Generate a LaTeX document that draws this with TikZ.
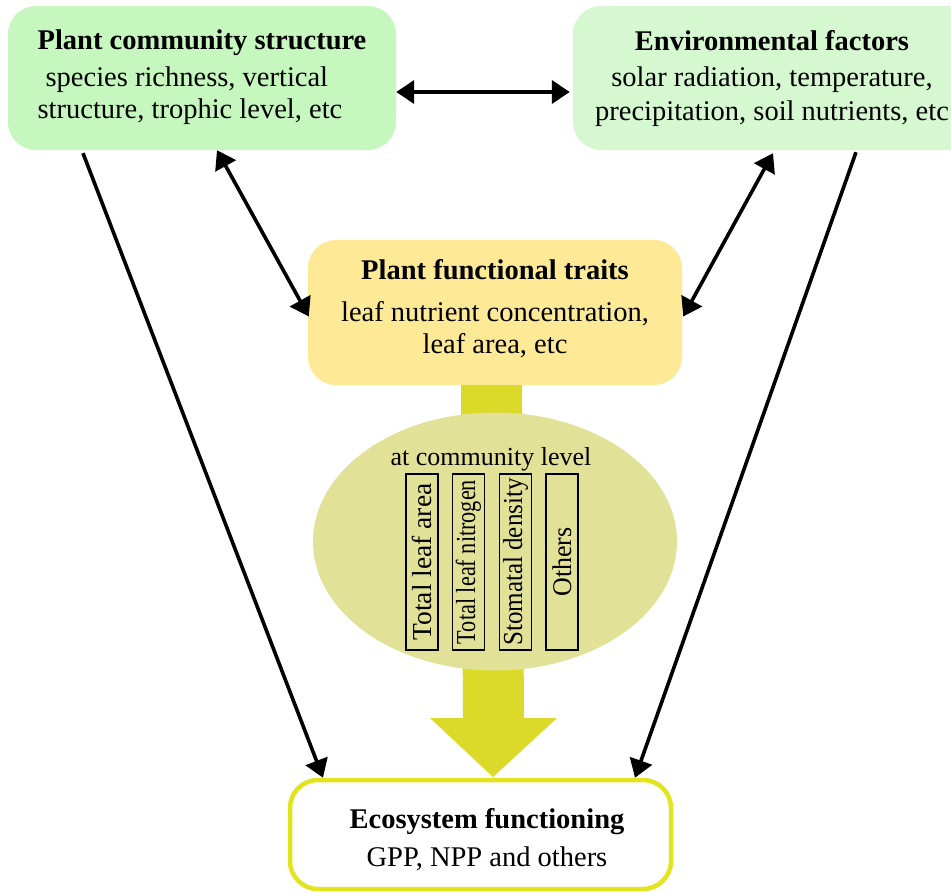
\documentclass[tikz,border=0pt]{standalone}
\usepackage{fontspec}
\setmainfont{Liberation Serif}
\usetikzlibrary{arrows.meta,calc,shapes.geometric}
\definecolor{gA}{RGB}{198,247,190}
\definecolor{gB}{RGB}{214,248,209}
\definecolor{yA}{RGB}{253,233,150}
\definecolor{stem}{RGB}{220,218,40}
\definecolor{ell}{RGB}{225,225,152}
\definecolor{ecoB}{RGB}{226,228,30}
\tikzset{
  bigbox/.style={rounded corners=28pt, inner sep=0pt, font=\fontsize{28.5}{32}\selectfont},
  conn/.style={line width=3.6pt, {Triangle[length=18pt,width=23pt]}-{Triangle[length=18pt,width=23pt]}},
  oneway/.style={line width=3.6pt, -{Triangle[length=18pt,width=23pt]}},
  vbox/.style={draw=black, line width=1.6pt, minimum width=32pt, minimum height=176pt, inner sep=0pt}
}
\begin{document}
\begin{tikzpicture}[x=1pt,y=-1pt]
\clip (0,0) rectangle (951,894);
\fill[white] (0,0) rectangle (951,894);
% boxes
\node[bigbox, fill=gA, minimum width=388pt, minimum height=144pt, align=left] (pcs) at (202,78)
  {\textbf{Plant community structure}\\[5pt]\hspace{8pt}species richness, vertical\\structure, trophic level, etc\rule[-8pt]{0pt}{8pt}};
\node[bigbox, fill=gB, minimum width=404pt, minimum height=144pt, align=center] (env) at (775,78)
  {\hspace*{-6pt}\textbf{Environmental factors}\\[4pt]\hspace*{-6pt}solar radiation, temperature,\\[2pt]\hspace*{-6pt}precipitation, soil nutrients, etc};
\node[bigbox, fill=yA, minimum width=374pt, minimum height=145pt, align=center] (pft) at (495,312.5)
  {\textbf{Plant functional traits}\\[10pt]leaf nutrient concentration,\\leaf area, etc\rule[-13pt]{0pt}{13pt}};
% thick arrow
\coordinate (tip) at (493,777);
\fill[stem] ([xshift=-32pt]pft.south -| tip) -- ([xshift=-30pt,yshift=59pt]tip) -- ([xshift=-63pt,yshift=59pt]tip) -- (tip)
  -- ([xshift=64pt,yshift=59pt]tip) -- ([xshift=31pt,yshift=59pt]tip) -- ([xshift=29pt]pft.south -| tip) -- cycle;
% ellipse
\node[ellipse, fill=ell, minimum width=364pt, minimum height=258pt, inner sep=0pt] (comm) at (495,541.5) {};
\node[font=\fontsize{26}{30}\selectfont] (lvl) at (491,459) {at community level};
\node[vbox] (v1) at (422,562) {\rotatebox{90}{\fontsize{27.5}{30}\selectfont Total leaf area}};
\node[vbox] (v2) at (468.5,562) {\rotatebox{90}{\scalebox{0.81}[1]{\fontsize{27.5}{30}\selectfont Total leaf nitrogen}}};
\node[vbox] (v3) at (515.5,562) {\rotatebox{90}{\scalebox{0.91}[1]{\fontsize{27.5}{30}\selectfont Stomatal density}}};
\node[vbox] (v4) at (562,562) {\rotatebox{90}{\scalebox{0.96}[1]{\fontsize{27}{30}\selectfont Others}}};
% ecosystem box
\node[rounded corners=28pt, draw=ecoB, line width=4.5pt, fill=white, minimum width=381pt, minimum height=109pt,
  inner sep=0pt, align=center, font=\fontsize{28.5}{32}\selectfont] (eco) at (480.5,834.5)
  {\hspace*{13pt}\textbf{Ecosystem functioning}\rule{0pt}{31pt}\\[6pt]\hspace*{13pt}GPP, NPP and others};
% connectors
\draw[conn] ([yshift=-14pt]pcs.east) -- ([xshift=-3pt,yshift=-14pt]env.west);
\draw[conn] ([xshift=15pt]pcs.south) -- ([xshift=1pt,yshift=-4pt]pft.west);
\draw[conn] ([xshift=-2pt,yshift=-3pt]env.south) -- ([xshift=1pt,yshift=-4pt]pft.east);
\draw[oneway] ([xshift=-119pt,yshift=-3pt]pcs.south) -- ([xshift=-157.5pt]eco.north);
\draw[oneway] ([xshift=81pt,yshift=-2pt]env.south) -- ([xshift=154.5pt]eco.north);
\end{tikzpicture}
\end{document}
